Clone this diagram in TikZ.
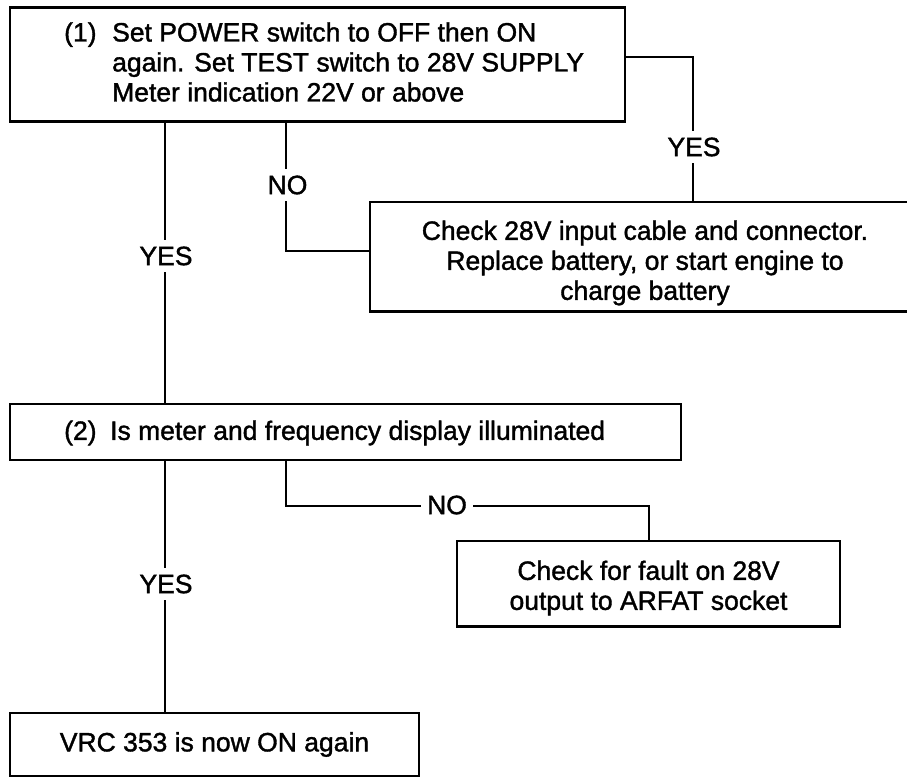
\documentclass[tikz,border=0pt]{standalone}
\usepackage{fontspec}
\setmainfont{Liberation Sans}[BoldFont={Liberation Sans},BoldFeatures={FakeBold=1.4}]
\begin{document}
\begin{tikzpicture}[x=1pt,y=-1pt,
  box/.style={draw, line width=2.2pt, rectangle, inner sep=0pt},
  txt/.style={font=\fontsize{26.5}{30}\selectfont\bfseries, inner sep=0pt, align=center},
  conn/.style={line width=2pt},
  lbl/.style={font=\fontsize{26.5}{30}\selectfont\bfseries, fill=white, inner xsep=6pt, inner ysep=7pt}]
\useasboundingbox (0,0) rectangle (907,778);
% boxes
\node[box, minimum width=615pt, minimum height=114pt] (b1) at (317.5,64.5) {};
\node[box, minimum width=550pt, minimum height=109.5pt] (b3) at (645,256.75) {};
\node[box, minimum width=671pt, minimum height=56pt] (b2) at (345.5,432) {};
\node[box, minimum width=383pt, minimum height=85.5pt] (b4) at (648.5,583.75) {};
\node[box, minimum width=409pt, minimum height=63pt] (b5) at (214.5,744.5) {};
% texts
\node[txt, anchor=west, align=left] (t1) at (64,62) {\makebox[48pt][l]{(1)}Set POWER switch to OFF then ON\\\hspace*{48pt}again. Set TEST switch to 28V SUPPLY\\\hspace*{48pt}Meter indication 22V or above};
\node[txt] (t3) at (645,263) {Check 28V input cable and connector.\\Replace battery, or start engine to\\charge battery};
\node[txt, anchor=west] (t2) at (64,433) {\makebox[46pt][l]{(2)}Is meter and frequency display illuminated};
\node[txt] (t4) at (648.5,588) {Check for fault on 28V\\output to ARFAT socket};
\node[txt] (t5) at (b5.center) {VRC 353 is now ON again};
% connectors
\draw[conn] ([xshift=156pt]b1.south west) -- ([xshift=156pt]b2.north west);
\draw[conn] ([xshift=277.5pt]b1.south west) |- ([yshift=6pt]b3.west);
\draw[conn] ([yshift=-51pt]b1.north east) -| ([xshift=324pt]b3.north west);
\draw[conn] ([xshift=277.5pt]b2.south west) -- ++(0,45) -| (b4.north);
\draw[conn] ([xshift=156pt]b2.south west) -- ([xshift=156pt]b5.north west);
% labels
\node[lbl] (l1) at (166,256) {YES};
\node[lbl] (l2) at (287.5,185) {NO};
\node[lbl] (l3) at (694,147) {YES};
\node[lbl] (l4) at (447,505) {NO};
\node[lbl] (l5) at (166,584) {YES};
\end{tikzpicture}
\end{document}
